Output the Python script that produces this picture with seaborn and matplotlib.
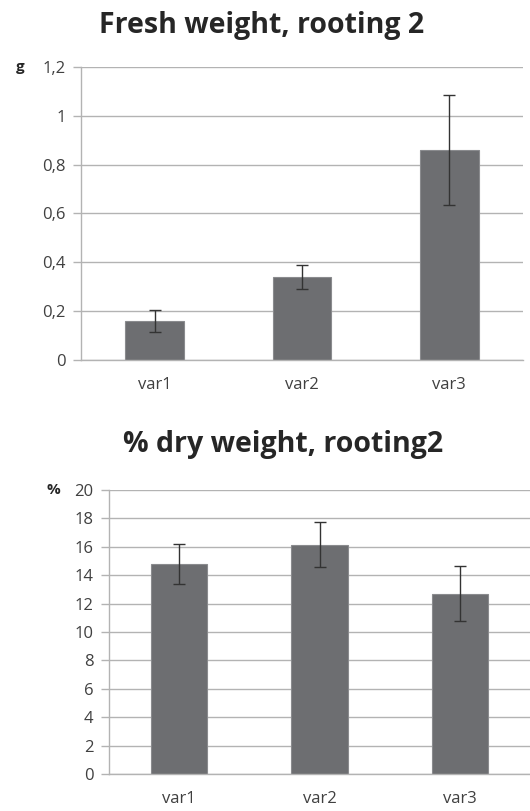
import matplotlib
matplotlib.use("Agg")
import matplotlib.pyplot as plt
import matplotlib.ticker as mticker
import seaborn as sns

# data
variantes = ["var1", "var2", "var3"]
peso_fresco = [0.16, 0.34, 0.86]
peso_fresco_err = [0.046, 0.048, 0.227]
peso_seco = [14.8, 16.15, 12.7]
peso_seco_err = [1.42, 1.57, 1.93]

sns.set_style("white")
plt.rcParams["font.family"] = ["Open Sans", "DejaVu Sans"]

color_barra = "#6d6e71"
color_grid = "#b3b3b3"
color_texto = "#404040"

fig = plt.figure(figsize=(5.3, 8.11), dpi=100)
ax1 = fig.add_axes([0.1528, 0.5561, 0.834, 0.3613])
ax2 = fig.add_axes([0.2057, 0.0456, 0.7943, 0.3502])


def dibujar(ax, valores, errores, ymax, paso):
    sns.barplot(x=variantes, y=valores, color=color_barra, width=0.4,
                errorbar=None, edgecolor="#8a8b8e", linewidth=0.8,
                saturation=1, ax=ax, zorder=2)
    ax.errorbar(x=range(len(variantes)), y=valores, yerr=errores, fmt="none",
                ecolor="#333333", elinewidth=1, capsize=4, capthick=1, zorder=3)
    ax.set_ylim(0, ymax)
    ax.set_xlim(-0.5, len(variantes) - 0.5)
    ax.yaxis.set_major_locator(mticker.MultipleLocator(paso))
    ax.yaxis.set_major_formatter(
        mticker.FuncFormatter(lambda v, p: f"{round(v, 4):g}".replace(".", ",")))
    ax.grid(axis="y", color=color_grid, linewidth=1, zorder=0)
    ax.set_axisbelow(True)
    for s in ["top", "right"]:
        ax.spines[s].set_visible(False)
    for s in ["left", "bottom"]:
        ax.spines[s].set_color(color_grid)
        ax.spines[s].set_linewidth(1)
    ax.tick_params(axis="y", which="major", left=True, length=6, width=1,
                   color=color_grid, labelsize=12, labelcolor=color_texto, pad=5)
    ax.tick_params(axis="x", bottom=False, labelsize=12, labelcolor=color_texto, pad=9)
    ax.set_xlabel("")
    ax.set_ylabel("")


dibujar(ax1, peso_fresco, peso_fresco_err, 1.2, 0.2)
dibujar(ax2, peso_seco, peso_seco_err, 20, 2)

fig.text(262 / 530, 1 - 25 / 811, "Fresh weight, rooting 2", ha="center", va="center",
         fontsize=20.5, fontweight="bold", color="#262626")
fig.text(283 / 530, 1 - 445 / 811, "% dry weight, rooting2", ha="center", va="center",
         fontsize=20.5, fontweight="bold", color="#262626")
fig.text(20 / 530, 1 - 67 / 811, "g", ha="center", va="center",
         fontsize=11, fontweight="bold", color="#262626")
fig.text(53 / 530, 1 - 490 / 811, "%", ha="center", va="center",
         fontsize=11, fontweight="bold", color="#262626")

fig.savefig("out.png", dpi=100)
